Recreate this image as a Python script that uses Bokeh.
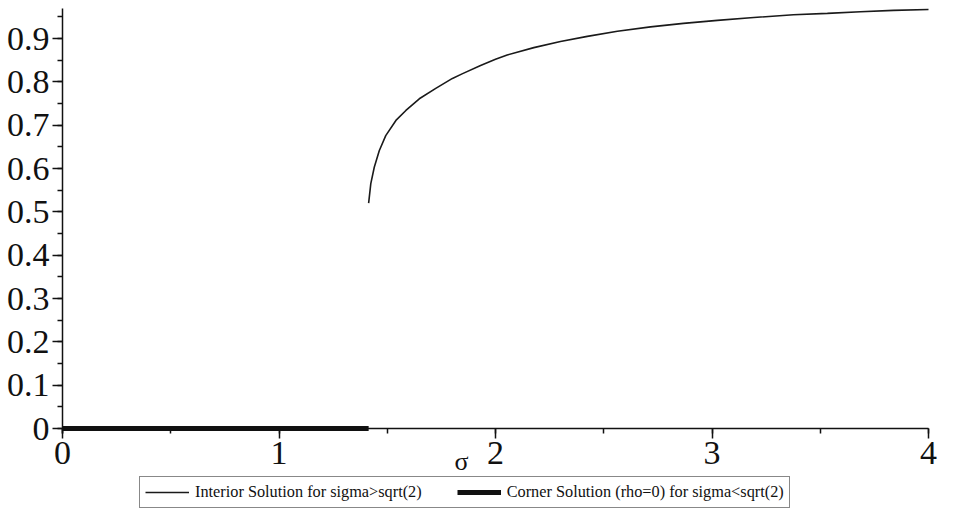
from bokeh.plotting import figure
from bokeh.models import (SingleIntervalTicker, CustomJSTickFormatter, Label,
                          Legend, LegendItem, Range1d)
from bokeh.embed import file_html
from bokeh.resources import INLINE

# ---- data ----
sigma_interior = [1.414, 1.424, 1.440, 1.463, 1.493, 1.540, 1.586, 1.648, 1.724,
                  1.801, 1.848, 1.931, 2.000, 2.054, 2.177, 2.300, 2.424, 2.563,
                  2.716, 2.868, 3.025, 3.178, 3.376, 3.533, 3.686, 3.838, 4.000]
rho_interior = [0.520, 0.565, 0.603, 0.641, 0.676, 0.711, 0.734, 0.761, 0.785,
                0.808, 0.819, 0.838, 0.852, 0.862, 0.879, 0.893, 0.905, 0.917,
                0.927, 0.935, 0.942, 0.948, 0.955, 0.958, 0.962, 0.965, 0.967]

sigma_corner = [0.0, 1.414]
rho_corner = [0.0, 0.0]

legend_labels = ["Interior Solution for sigma>sqrt(2)",
                 "Corner Solution (rho=0) for sigma<sqrt(2)"]
x_label = "σ"

FONT = "Liberation Serif"

p = figure(width=940, height=510, output_backend="svg", toolbar_location=None,
           x_range=Range1d(-0.2864, 4.0554), y_range=Range1d(-0.1892, 0.9878),
           min_border=0, min_border_left=0, min_border_right=0,
           min_border_top=0, min_border_bottom=0)
p.outline_line_color = None
p.xgrid.visible = False
p.ygrid.visible = False
p.background_fill_color = "white"
p.border_fill_color = "white"

r1 = p.line(sigma_interior, rho_interior, line_color="#1a1a1a", line_width=1.6)
r2 = p.line(sigma_corner, rho_corner, line_color="#111111", line_width=5)

# axes crossing at the origin
p.xaxis.ticker = SingleIntervalTicker(interval=1, num_minor_ticks=2)
p.yaxis.ticker = SingleIntervalTicker(interval=0.1, num_minor_ticks=2)
p.yaxis.formatter = CustomJSTickFormatter(code="return String(Math.round(tick*10)/10);")
p.xaxis.fixed_location = 0
p.yaxis.fixed_location = 0
p.xaxis.bounds = (0, 4)
p.yaxis.bounds = (-0.011, 0.97)
for ax in (p.xaxis[0], p.yaxis[0]):
    ax.axis_line_color = "#111111"
    ax.axis_line_width = 1.5
    ax.major_tick_line_color = "#111111"
    ax.major_tick_line_width = 1.5
    ax.minor_tick_line_color = "#111111"
    ax.minor_tick_line_width = 1.5
    ax.major_tick_out = 10
    ax.major_tick_in = 0
    ax.minor_tick_out = 5
    ax.minor_tick_in = 0
    ax.major_label_text_font = FONT
    ax.major_label_text_font_size = "34px"
    ax.major_label_text_color = "#111111"
    ax.major_label_standoff = 3

# sigma label
p.add_layout(Label(x=1.843, y=-0.075, text=x_label, text_font=FONT,
                   text_font_size="26px", text_color="#111111",
                   text_align="center", text_baseline="alphabetic"))

legend = Legend(items=[LegendItem(label=legend_labels[0], renderers=[r1]),
                       LegendItem(label=legend_labels[1], renderers=[r2])],
                orientation="horizontal", location=(139, 2),
                label_text_font=FONT, label_text_font_size="16.3px",
                label_text_color="#111111",
                border_line_color="#111111", border_line_width=1.2,
                glyph_width=44, glyph_height=18, label_standoff=6,
                spacing=35, padding=5, margin=0,
                label_height=18, background_fill_alpha=1.0)
p.add_layout(legend, "center")

open("out.html", "w").write(file_html(p, INLINE))
